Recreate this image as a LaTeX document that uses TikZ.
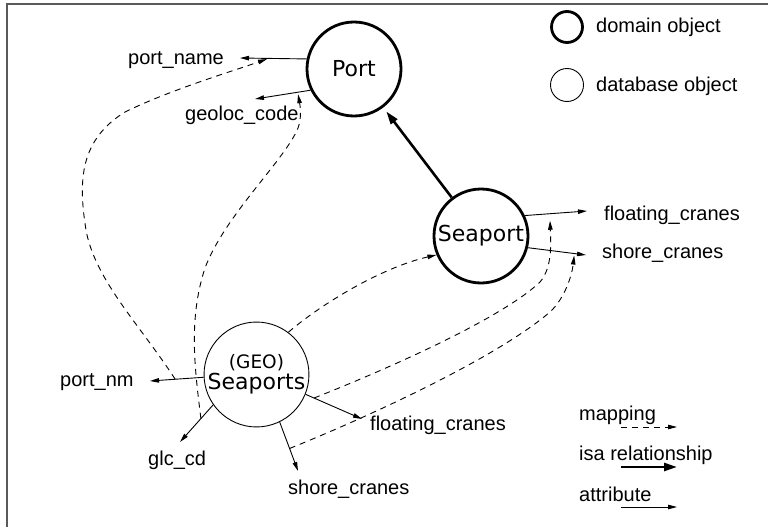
\documentclass[tikz,border=0pt]{standalone}
\usepackage{fontspec}
\setmainfont{Liberation Sans}
\newfontfamily\nodefnt{DejaVu Sans}
\usetikzlibrary{arrows.meta}
\begin{document}
\begin{tikzpicture}[x=1pt,y=-1pt,
  domobj/.style={circle,draw,line width=2.8pt,minimum size=94pt,inner sep=0pt,font=\nodefnt\fontsize{22}{26}\selectfont},
  dbobj/.style={circle,draw,line width=0.9pt,minimum size=96pt,inner sep=0pt,align=center,font=\nodefnt\fontsize{22}{21}\selectfont},
  legdomobj/.style={circle,draw,line width=2.8pt,minimum size=31pt,inner sep=0pt},
  legdbobj/.style={circle,draw,line width=0.9pt,minimum size=33pt,inner sep=0pt},
  lbl/.style={inner sep=0pt,anchor=base west,font=\fontsize{20}{24}\selectfont},
  attr/.style={line width=0.9pt,-{Triangle[length=9pt,width=4.5pt]}},
  mapping/.style={line width=0.9pt,dash pattern=on 6pt off 5pt,-{Triangle[length=9pt,width=4.5pt]}},
  isa/.style={line width=2.6pt,-{Triangle[length=13pt,width=8pt]}},
  frame/.style={draw=black!65,line width=1.5pt}
]
\useasboundingbox (0,0) rectangle (768,527);
\draw[frame] (7,527) -- (7,4) -- (768,4);

% objects
\node[domobj] (port) at (354,69) {Port};
\node[domobj] (seaport) at (481,236) {Seaport};
\node[dbobj] (geo) at (256.5,374.5) {{\fontsize{18.5}{21}\selectfont (GEO)}\\Seaports};

% labels
\node[lbl] (pname) at (128,64) {port\_name};
\node[lbl] (gcode) at (185,120) {geoloc\_code};
\node[lbl] (pnm) at (60,386) {port\_nm};
\node[lbl] (glc) at (148,465) {glc\_cd};
\node[lbl] (gshore) at (288,494) {shore\_cranes};
\node[lbl] (gfloat) at (370,430) {floating\_cranes};
\node[lbl] (sfloat) at (604,220) {floating\_cranes};
\node[lbl] (sshore) at (602,258) {shore\_cranes};

% tips
\coordinate (pntip) at (240,58);
\coordinate (gctip) at (255,99);
\coordinate (pnmtip) at (150,381);
\coordinate (glctip) at (180,442);
\coordinate (gsctip) at (298,471);
\coordinate (gfctip) at (362,419);
\coordinate (sfctip) at (587,211);
\coordinate (ssctip) at (586,255);

% attributes
\draw[attr] (port.168) -- coordinate[pos=0.567] (pnmap) (pntip);
\draw[attr] (port.206) -- coordinate[pos=0.23] (gcmap) (gctip);
\draw[attr] (geo.183) -- coordinate[pos=0.53] (pnmmap) (pnmtip);
\draw[attr] (geo.215) -- coordinate[pos=0.37] (glcmap) (glctip);
\draw[attr] (geo.296) -- coordinate[pos=0.54] (gscmap) (gsctip);
\draw[attr] (geo.338) -- coordinate[pos=0.15] (gfcmap) (gfctip);
\draw[attr] (seaport.25) -- coordinate[pos=0.4] (sfcmap) (sfctip);
\draw[attr] (seaport.-14) -- coordinate[pos=0.8] (sscmap) (ssctip);

% isa
\draw[isa,shorten >=5pt] (seaport) -- (port);

% mappings
\draw[mapping,shorten >=2pt] (pnmmap) .. controls (140,325) and (95,280) .. (86,230)
  .. controls (78,180) and (80,140) .. (125,112)
  .. controls (170,90) and (230,72) .. (pnmap);
\draw[mapping,shorten >=2pt] (glcmap) .. controls (195,370) and (188,320) .. (205,268)
  .. controls (225,215) and (285,160) .. (298,128)
  .. controls (302,118) and (300,105) .. (gcmap);
\draw[mapping] (geo.53) .. controls (320,305) and (380,268) .. (seaport.203);
\draw[mapping,shorten >=7pt] (gfcmap) .. controls (380,372) and (500,320) .. (540,282)
  .. controls (552,268) and (551,245) .. (sfcmap);
\draw[mapping,shorten >=2pt] (gscmap) .. controls (380,412) and (500,355) .. (550,312)
  .. controls (565,298) and (572,275) .. (sscmap);

% legend
\node[legdomobj] (legdom) at (567,27) {};
\node[legdbobj] (legdb) at (567,85) {};
\node[lbl] (ldom) at (596,33) {domain object};
\node[lbl] (ldb) at (596,91) {database object};
\node[lbl] (lmap) at (579,420) {mapping};
\node[lbl] (lisa) at (579,460) {isa relationship};
\node[lbl] (lattr) at (579,501) {attribute};
\coordinate (lm1) at (621,427);
\coordinate (lm2) at (677,427);
\coordinate (li1) at (621,467);
\coordinate (li2) at (677,467);
\coordinate (la1) at (621,507);
\coordinate (la2) at (677,507);
\draw[mapping] (lm1) -- (lm2);
\draw[isa] (li1) -- (li2);
\draw[attr] (la1) -- (la2);
\end{tikzpicture}
\end{document}
